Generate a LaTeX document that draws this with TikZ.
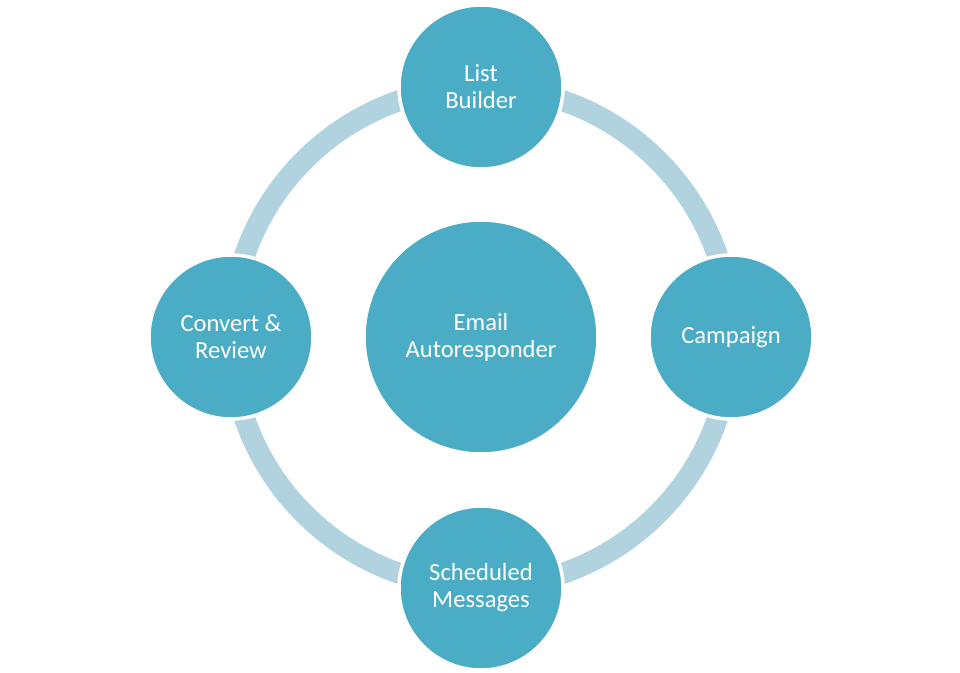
\documentclass[tikz,border=0pt]{standalone}
\usepackage{fontspec}
\setmainfont{Carlito}
\definecolor{aquaFill}{HTML}{4BACC6}
\definecolor{aquaRing}{HTML}{B0D3DF}
\begin{document}
\begin{tikzpicture}[
    x=1pt, y=1pt,
    hubNode/.style={circle, fill=aquaFill, draw=white, line width=3.5pt,
        minimum size=234pt, inner sep=0pt, text=white, align=center,
        font=\fontsize{24.6}{27}\selectfont},
    stepNode/.style={hubNode, minimum size=164pt},
]
\useasboundingbox[fill=white] (-481,-335) rectangle (479,337);

% Cycle ring
\draw[aquaRing, line width=21pt] (0,0) circle (250pt);

% Centre
\node[hubNode] (hub) at (0,0) {Email\\Autoresponder};

% Steps round the ring
\node[stepNode] (listBuilder) at (0,250) {List\\Builder};
\node[stepNode] (campaign) at (250,0) {Campaign};
\node[stepNode] (scheduled) at (0,-251) {Scheduled\\Messages};
\node[stepNode] (convert) at (-250,0) {Convert \&\\Review};
\end{tikzpicture}
\end{document}
